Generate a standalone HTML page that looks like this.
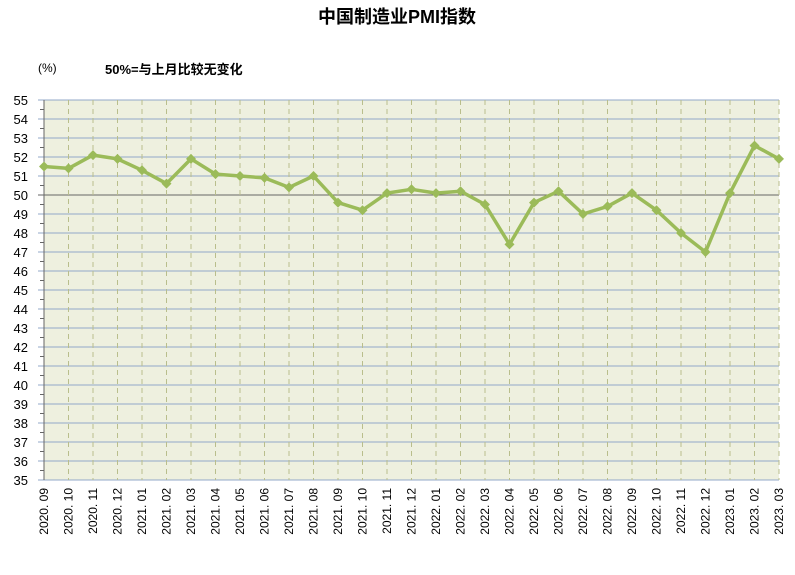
<!DOCTYPE html>
<html><head><meta charset="utf-8"><style>
body{margin:0;background:#fff;}
svg text{font-family:"Liberation Sans","Noto Sans CJK SC",sans-serif;}
</style></head><body>
<svg id="chart" width="795" height="570">
<text x="397" y="23" text-anchor="middle" font-size="18" font-weight="bold">中国制造业PMI指数</text>
<text x="38" y="72" font-size="12">(%)</text>
<text x="105" y="74" font-size="13" font-weight="bold">50%=与上月比较无变化</text>
<g id="plot"></g>
</svg>
<script>
const categories=["2020.09","2020.10","2020.11","2020.12","2021.01","2021.02","2021.03","2021.04","2021.05","2021.06","2021.07","2021.08","2021.09","2021.10","2021.11","2021.12","2022.01","2022.02","2022.03","2022.04","2022.05","2022.06","2022.07","2022.08","2022.09","2022.10","2022.11","2022.12","2023.01","2023.02","2023.03"];
const pmiValues=[51.5,51.4,52.1,51.9,51.3,50.6,51.9,51.1,51.0,50.9,50.4,51.0,49.6,49.2,50.1,50.3,50.1,50.2,49.5,47.4,49.6,50.2,49.0,49.4,50.1,49.2,48.0,47.0,50.1,52.6,51.9];
const yMin=35,yMax=55;
const L=44,R=779,T=100,B=480;
const NS="http://www.w3.org/2000/svg";
const g=document.getElementById('plot');
const x=i=>L+i*(R-L)/(categories.length-1);
const y=v=>B-(v-yMin)*(B-T)/(yMax-yMin);
function mk(t,a){const e=document.createElementNS(NS,t);for(const k in a)e.setAttribute(k,a[k]);g.appendChild(e);return e;}
let bg=mk('rect',{x:L,y:T,width:R-L,height:B-T,fill:'#EEF0DF'});


for(let v=yMin;v<=yMax;v++){
  let ln=mk('line',{x1:L-6,x2:R,y1:y(v),y2:y(v),stroke:v===50?'#666':'#93A9C8','stroke-width':1});
  
  
  let tk=mk('line',{x1:L-4,x2:L,y1:y(v+0.5),y2:y(v+0.5),stroke:'#666'});
  if(v===yMax)tk.remove();
  let t=mk('text',{x:L-16,y:y(v)+5,'text-anchor':'end','font-size':13});
  t.textContent=v;
  
  
}
categories.forEach((c,i)=>{
  if(i>0){let d=mk('line',{x1:x(i),x2:x(i),y1:T,y2:B,stroke:'#B9BE8C','stroke-dasharray':'5,4'});
  
  }
  let t=mk('text',{x:0,y:0,'text-anchor':'end','font-size':12,transform:`translate(${x(i)+4},488) rotate(-90)`});
  t.textContent=c.replace('.','. ');
  
  
});
let ax=mk('line',{x1:L,x2:L,y1:T,y2:B,stroke:'#666'});


let pl=mk('polyline',{points:pmiValues.map((v,i)=>x(i)+','+y(v)).join(' '),fill:'none',stroke:'#9BBB59','stroke-width':3.5,'stroke-linejoin':'round'});


pmiValues.forEach((v,i)=>{
  const cx=x(i),cy=y(v),s=5;
  let m=mk('polygon',{points:`${cx},${cy-s} ${cx+s},${cy} ${cx},${cy+s} ${cx-s},${cy}`,fill:'#9BBB59'});
  
  
});
</script>
</body></html>
